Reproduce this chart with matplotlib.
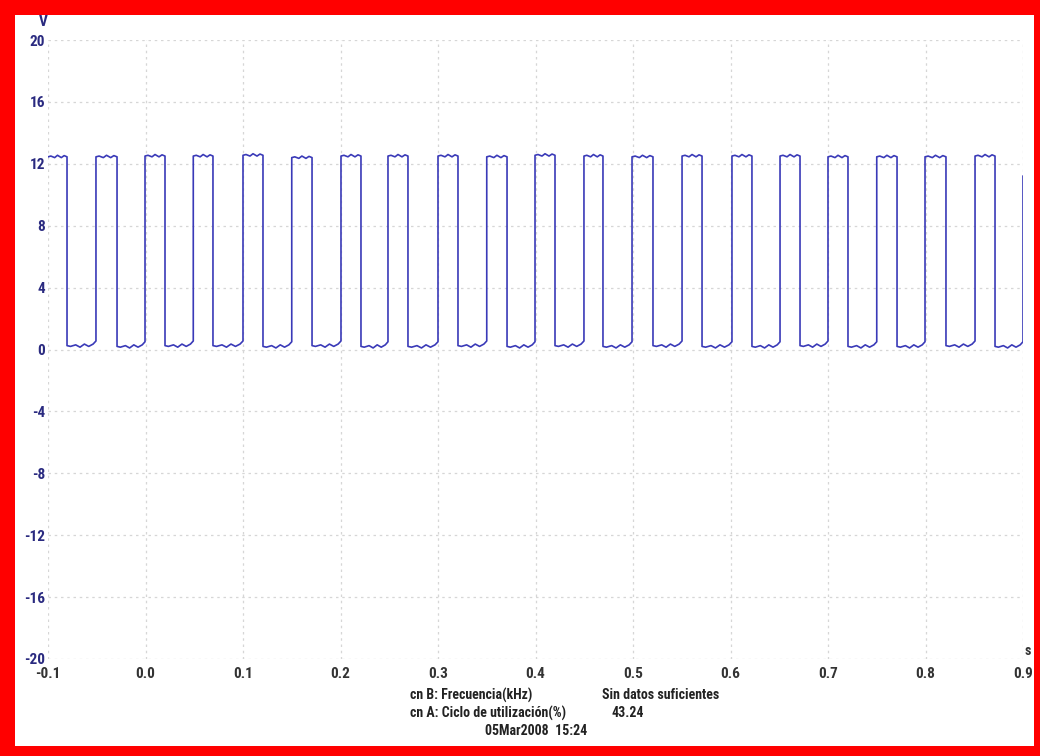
import matplotlib
matplotlib.use("Agg")
import matplotlib.pyplot as plt
from matplotlib.patches import Rectangle
import numpy as np

# ---- data ----
x_ticks = [-0.1, 0.0, 0.1, 0.2, 0.3, 0.4, 0.5, 0.6, 0.7, 0.8, 0.9]
x_tick_labels = ["-0.1", "0.0", "0.1", "0.2", "0.3", "0.4", "0.5", "0.6", "0.7", "0.8", "0.9"]
y_ticks = [-20, -16, -12, -8, -4, 0, 4, 8, 12, 16, 20]
y_tick_labels = ["-20", "-16", "-12", "-8", "-4", "0", "4", "8", "12", "16", "20"]

# edge times (s)
fall_times = [-0.0805, -0.0292, 0.0200, 0.0692, 0.1205, 0.1708, 0.2210, 0.2692, 0.3205,
              0.3708, 0.4200, 0.4692, 0.5205, 0.5708, 0.6220, 0.6713, 0.7205, 0.7708,
              0.8210, 0.8713]
rise_times = [-0.0508, -0.0005, 0.0490, 0.1000, 0.1500, 0.2005, 0.2487, 0.3000, 0.3500,
              0.3995, 0.4497, 0.4990, 0.5503, 0.6015, 0.6508, 0.7000, 0.7500, 0.7995,
              0.8508, 0.9000]
# plateau levels (V)
high_levels = [12.45, 12.45, 12.5, 12.5, 12.55, 12.4, 12.5, 12.5, 12.5, 12.45, 12.55,
               12.5, 12.45, 12.5, 12.5, 12.5, 12.45, 12.45, 12.45, 12.5]
low_levels = [0.25, 0.2, 0.25, 0.25, 0.2, 0.25, 0.2, 0.2, 0.25, 0.2, 0.25, 0.2, 0.25,
              0.2, 0.2, 0.25, 0.2, 0.2, 0.25, 0.2]
last_value = 11.2
# small ripple shape on the plateaus (fraction of plateau, offset V)
low_ripple_pos = [0.0, 0.12, 0.3, 0.45, 0.6, 0.75, 0.9, 1.0]
low_ripple_off = [0.0, -0.05, 0.05, -0.1, 0.1, -0.05, 0.1, 0.3]
high_ripple_pos = [0.0, 0.15, 0.35, 0.5, 0.7, 0.85, 1.0]
high_ripple_off = [0.0, 0.05, -0.05, 0.1, -0.05, 0.08, 0.0]

info_left = ["cn B: Frecuencia(kHz)", "cn A: Ciclo de utilización(%)"]
info_right = ["Sin datos suficientes", "43.24"]
date_text = "05Mar2008  15:24"

# ---- build trace ----
t, v = [], []
start = -0.1
for i, (tf, tr) in enumerate(zip(fall_times, rise_times)):
    hi = high_levels[i]
    for p, o in zip(high_ripple_pos, high_ripple_off):
        t.append(start + p * (tf - start)); v.append(hi + o)
    lo = low_levels[i]
    for p, o in zip(low_ripple_pos, low_ripple_off):
        t.append(tf + p * (tr - tf)); v.append(lo + o)
    start = tr
t.append(rise_times[-1]); v.append(last_value)

W, H = 1040, 756
fig = plt.figure(figsize=(W / 100, H / 100), dpi=100)
fig.patch.set_facecolor("#ff0000")
fig.add_artist(Rectangle((15 / W, 10 / H), (1034 - 15) / W, (744 - 13) / H,
                         transform=fig.transFigure, facecolor="white", edgecolor="none", zorder=0))

ax = fig.add_axes([48 / W, 1 - 659 / H, (1023 - 48) / W, (659 - 40) / H])
ax.set_facecolor("none")
ax.plot(t, v, color="#3a3ab8", lw=1.2, zorder=3)
ax.set_xlim(-0.1, 0.9)
ax.set_ylim(-20, 20)
for s in ax.spines.values():
    s.set_visible(False)
ax.grid(True, color="#d6d6d6", linestyle=(0, (2, 3)), lw=0.9)
ax.set_axisbelow(True)

fam = ["Roboto Condensed", "DejaVu Sans"]
kw = dict(family=fam, weight="bold", stretch="condensed")
ax.set_xticks(x_ticks)
ax.set_xticklabels(x_tick_labels, fontsize=11, color="#333333", **kw)
ax.set_yticks(y_ticks)
ax.set_yticklabels(y_tick_labels, fontsize=11, color="#2a2a80", **kw)
ax.tick_params(axis="both", length=0)
ax.tick_params(axis="x", pad=6)
ax.tick_params(axis="y", pad=2)

fig.text(43 / W, 1 - 22 / H, "V", fontsize=11, color="#2a2a80",
         ha="center", va="center", **kw)
fig.text(1028 / W, 1 - 651 / H, "s", fontsize=10, color="#333333",
         ha="center", va="center", **kw)

ys = [695, 713]
for yy, l in zip(ys, info_left):
    fig.text(410 / W, 1 - yy / H, l, fontsize=10, color="#222222",
             ha="left", va="center", **kw)
for yy, r, xx in zip(ys, info_right, [602, 611]):
    fig.text(xx / W, 1 - yy / H, r, fontsize=10, color="#222222",
             ha="left", va="center", **kw)
fig.text(485 / W, 1 - 731 / H, date_text, fontsize=10, color="#222222",
         ha="left", va="center", **kw)

fig.savefig("out.png", dpi=100, facecolor=fig.get_facecolor())
